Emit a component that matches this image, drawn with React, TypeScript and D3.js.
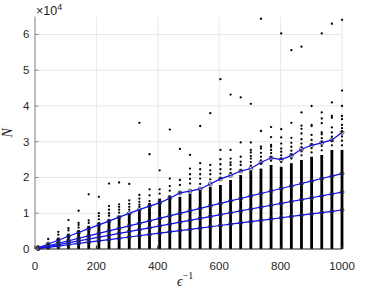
import React from "react";
import { scaleLinear, line } from "d3";

// tolerance values (x axis) – one column of samples per value
const epsInv = [
  10, 43, 76, 109, 142, 175, 208, 241, 274, 307, 340, 373, 406, 439, 472, 505,
  538, 571, 604, 637, 670, 703, 736, 769, 802, 835, 868, 901, 934, 967, 1000,
];

// blue curves, top to bottom
const curveA = [
  330, 1400, 2450, 3550, 4600, 5700, 6750, 7800, 8900, 9950, 11000, 12000,
  12900, 14200, 15700, 16200, 16800, 18200, 19600, 20600, 21800, 22500, 24200,
  25500, 25000, 26100, 27900, 29000, 29700, 30500, 32600,
];
const curveB = [
  210, 900, 1600, 2290, 3000, 3690, 4380, 5090, 5780, 6470, 7180, 7870, 8560,
  9270, 9950, 10660, 11350, 12050, 12740, 13450, 14130, 14840, 15520, 16230,
  16920, 17610, 18320, 19000, 19710, 20400, 21100,
];
const curveC = [
  160, 680, 1210, 1730, 2260, 2780, 3310, 3830, 4360, 4880, 5410, 5930, 6460,
  6980, 7500, 8030, 8550, 9080, 9600, 10130, 10650, 11180, 11700, 12230, 12750,
  13280, 13800, 14330, 14850, 15380, 15900,
];
const curveD = [
  110, 470, 830, 1190, 1550, 1910, 2270, 2630, 2990, 3350, 3710, 4070, 4430,
  4790, 5150, 5510, 5860, 6220, 6580, 6940, 7300, 7660, 8020, 8380, 8740, 9100,
  9460, 9820, 10180, 10540, 10900,
];

// samples: solid part of each column, then the loose dots above it
const denseTop = [
  400, 1800, 3200, 4300, 5300, 6500, 7500, 8300, 9200, 10000, 10900, 12900,
  14100, 15000, 14600, 15500, 16500, 17400, 17900, 19300, 20700, 22000, 22500,
  23500, 23000, 24000, 24900, 25800, 26300, 27700, 27700,
];
const looseDots: number[][] = [
  [700],
  [2800],
  [4000, 4800],
  [5200, 5800, 8100],
  [6000, 6700, 7300, 10700],
  [7300, 8000, 15300],
  [8300, 9200, 10000, 14600],
  [9300, 10000, 11000, 12000, 18300],
  [10200, 11000, 11800, 12500, 18600],
  [11000, 11800, 12600, 13600, 18200],
  [11800, 12400, 13200, 14100, 15100, 35300],
  [13400, 15000, 16700, 26500],
  [15500, 16700, 22000],
  [16300, 17600, 19700, 33400],
  [15800, 17900, 19300, 28000],
  [18300, 19600, 20900, 22500, 26300],
  [18200, 19700, 20900, 22300, 24000, 34400],
  [19500, 20900, 22000, 23500, 38000],
  [19800, 21100, 22300, 23700, 25100, 27700, 47500],
  [21300, 22300, 23500, 24200, 25300, 27700, 43200],
  [22000, 23500, 24400, 25800, 29800, 42400],
  [23300, 24300, 25300, 26000, 27000, 27700, 29800, 40600],
  [23800, 24800, 25800, 26900, 28100, 28600, 33000, 64400],
  [24700, 25700, 26800, 27700, 28600, 29100, 31300, 34100],
  [24300, 25300, 26200, 27200, 28100, 29500, 31200, 33500, 60300],
  [25300, 26500, 27500, 28600, 29700, 31100, 35300, 55600],
  [26200, 27300, 28500, 29500, 30700, 32300, 33600, 34500, 38200, 56600],
  [27000, 28200, 29300, 30500, 31900, 34400, 34700, 40000],
  [27600, 28800, 30000, 31000, 32100, 32600, 35200, 36500, 38200, 60300],
  [29000, 30200, 31400, 32600, 34000, 36700, 37200, 41000, 63000],
  [29000, 30300, 31500, 32800, 33800, 34700, 36300, 37200, 40000, 44300, 64100],
];

const xTicks = [0, 200, 400, 600, 800, 1000];
const yTicks = [0, 10000, 20000, 30000, 40000, 50000, 60000];

export default function App() {
  const W = 374;
  const H = 292;
  const x = scaleLinear().domain([0, 1000]).range([35, 342]);
  const y = scaleLinear().domain([0, 65000]).range([249, 16.6]);

  const curves = [curveA, curveB, curveC, curveD];
  const path = line<number>()
    .x((_, i) => x(epsInv[i]))
    .y((d) => y(d));

  const font = "'Liberation Sans', Arial, Helvetica, sans-serif";
  const serif = "'Liberation Serif', 'DejaVu Serif', 'Times New Roman', serif";

  return (
    <svg
      width={W}
      height={H}
      style={{ position: "absolute", left: 0, top: 0, background: "#fff" }}
    >
      {/* grid */}
      {yTicks.map((t) => (
        <line key={"gy" + t} x1={35} x2={342} y1={y(t)} y2={y(t)} stroke="#e8e8e8" strokeWidth={1} />
      ))}
      {xTicks.map((t) => (
        <line key={"gx" + t} x1={x(t)} x2={x(t)} y1={16.6} y2={249} stroke="#e8e8e8" strokeWidth={1} />
      ))}

      {/* sample columns */}
      {epsInv.map((e, i) => (
        <g key={"c" + e}>
          <rect
            x={x(e) - 1.4}
            y={y(denseTop[i])}
            width={2.8}
            height={y(0) - y(denseTop[i])}
            fill="#000"
          />
          {looseDots[i].map((v, j) => (
            <circle key={j} cx={x(e)} cy={y(v)} r={1.15} fill="#000" />
          ))}
        </g>
      ))}

      {/* curves */}
      {curves.map((c, k) => (
        <g key={"l" + k}>
          <path d={path(c) ?? ""} fill="none" stroke="#0a0aff" strokeWidth={1.2} />
          {c.map((v, i) => (
            <circle
              key={i}
              cx={x(epsInv[i])}
              cy={y(v)}
              r={2}
              fill="none"
              stroke="#333"
              strokeWidth={0.8}
            />
          ))}
        </g>
      ))}

      {/* axes */}
      <line x1={35} x2={35} y1={16.6} y2={249} stroke="#8a8a8a" strokeWidth={1} />
      <line x1={35} x2={342} y1={249} y2={249} stroke="#262626" strokeWidth={1} />
      {yTicks.map((t) => (
        <line key={"ty" + t} x1={35} x2={38.5} y1={y(t)} y2={y(t)} stroke="#8a8a8a" />
      ))}
      {xTicks.map((t) => (
        <line key={"tx" + t} x1={x(t)} x2={x(t)} y1={249} y2={245.5} stroke="#262626" />
      ))}

      {yTicks.map((t) => (
        <text
          key={"ly" + t}
          x={29.5}
          y={y(t) + 4}
          textAnchor="end"
          fontFamily={font}
          fontSize={11.5}
          fill="#262626"
        >
          {t / 10000}
        </text>
      ))}
      {xTicks.map((t) => (
        <text
          key={"lx" + t}
          x={x(t)}
          y={270}
          textAnchor="middle"
          fontFamily={font}
          fontSize={11.5}
          fill="#262626"
        >
          {t}
        </text>
      ))}

      {/* exponent */}
      <text x={36} y={15} fontFamily={font} fontSize={12.5} fill="#262626">
        ×10
        <tspan dy={-5.5} fontSize={9}>
          4
        </tspan>
      </text>

      {/* axis labels */}
      <text
        transform={`translate(12,${(16.6 + 249) / 2}) rotate(-90)`}
        textAnchor="middle"
        fontFamily={serif}
        fontStyle="italic"
        fontSize={14}
        fill="#262626"
      >
        N
      </text>
      <text x={177} y={286} fontFamily={serif} fontStyle="italic" fontSize={14} fill="#262626">
        ϵ
        <tspan dy={-7} fontStyle="normal" fontSize={10}>
          −1
        </tspan>
      </text>
    </svg>
  );
}
